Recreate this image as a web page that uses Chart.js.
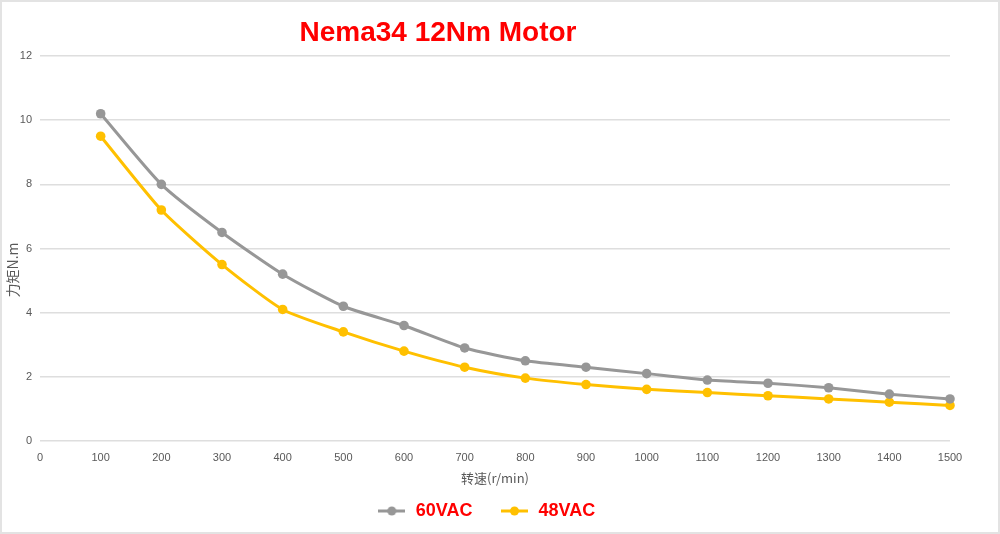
<!DOCTYPE html>
<html>
<head>
<meta charset="utf-8">
<script src="https://cdn.jsdelivr.net/npm/chart.js@4"></script>
<style>
  html, body { margin: 0; padding: 0; background: #fff; }
  #wrap { position: relative; width: 1000px; height: 534px; box-sizing: border-box; border: 2px solid #e3e3e3; }
  #chartTitle {
    position: absolute; left: 236px; width: 400px; top: 14px; text-align: center;
    font: bold 28px "Liberation Sans", Arial, sans-serif; color: #ff0000;
  }
  canvas { position: absolute; left: -2px; top: -2px; }
</style>
</head>
<body>
<div id="wrap">
  <canvas id="torqueChart" width="1000" height="534"></canvas>
  <div id="chartTitle">Nema34 12Nm Motor</div>
</div>
<script>
/* ===== Torque curve data ===== */
const speeds = [100, 200, 300, 400, 500, 600, 700, 800, 900, 1000, 1100, 1200, 1300, 1400, 1500];
const torque60 = [10.2, 8.0, 6.5, 5.2, 4.2, 3.6, 2.9, 2.5, 2.3, 2.1, 1.9, 1.8, 1.66, 1.46, 1.31];
const torque48 = [9.5, 7.2, 5.5, 4.1, 3.4, 2.8, 2.3, 1.96, 1.76, 1.61, 1.51, 1.41, 1.31, 1.21, 1.11];
const seriesNames = ['60VAC', '48VAC'];
const seriesColors = ['#979797', '#ffc000'];
const xTitle = '转速(r/min)';
const yTitle = '力矩N.m';

const cjkFont = '"Noto Sans CJK SC", sans-serif';
const tickFont = { family: '"Liberation Sans", Arial, sans-serif', size: 11 };

// line-with-dot sample used in the legend
function legendIcon(color) {
  const c = document.createElement('canvas');
  c.width = 27; c.height = 10;
  const g = c.getContext('2d');
  g.strokeStyle = color; g.lineWidth = 3;
  g.beginPath(); g.moveTo(0, 5); g.lineTo(27, 5); g.stroke();
  g.fillStyle = color;
  g.beginPath(); g.arc(13.5, 5, 4.5, 0, Math.PI * 2); g.fill();
  return c;
}

function toPoints(vals) {
  return speeds.map((s, i) => ({ x: s, y: vals[i] }));
}

const datasets = [torque60, torque48].map((vals, i) => ({
  label: seriesNames[i],
  data: toPoints(vals),
  borderColor: seriesColors[i],
  backgroundColor: seriesColors[i],
  borderWidth: 3,
  pointRadius: 4.8,
  pointBorderWidth: 0,
  pointStyle: 'circle',
  tension: 0.2,
  clip: false
}));

// y axis title drawn by hand so it can sit a bit below the middle like the original,
// and the legend nudged left a little
const tweaksPlugin = {
  id: 'tweaks',
  afterLayout(chart) {
    chart.legend.left -= 9;
    chart.legend.right -= 9;
  },
  afterDraw(chart) {
    const ctx = chart.ctx;
    ctx.save();
    ctx.translate(13, 270);
    ctx.rotate(-Math.PI / 2);
    ctx.font = '14px ' + cjkFont;
    ctx.fillStyle = '#595959';
    ctx.textAlign = 'center';
    ctx.textBaseline = 'middle';
    ctx.fillText(yTitle, 0, 0);
    ctx.restore();
  }
};

new Chart(document.getElementById('torqueChart'), {
  type: 'line',
  data: { datasets },
  plugins: [tweaksPlugin],
  options: {
    responsive: false,
    animation: false,
    layout: { padding: { top: 56, right: 50, left: 0, bottom: 4 } },
    scales: {
      x: {
        type: 'linear',
        min: 0, max: 1500,
        ticks: { stepSize: 100, color: '#595959', font: tickFont, padding: 10, format: { useGrouping: false } },
        grid: { display: false, drawTicks: false },
        border: { display: false },
        title: { display: true, text: xTitle, color: '#595959', font: { family: cjkFont, size: 13 }, padding: { top: 0, bottom: -11 } },
        afterFit: s => { s.height = 34; }
      },
      y: {
        min: 0, max: 12,
        ticks: { stepSize: 2, color: '#595959', font: tickFont, padding: 8 },
        grid: { color: '#dedede', lineWidth: 1.5, drawTicks: false },
        border: { display: false },
        afterFit: s => { s.width = 40; }
      }
    },
    plugins: {
      legend: {
        position: 'bottom',
        fullSize: false,
        labels: {
          usePointStyle: true,
          pointStyleWidth: 30,
          color: '#ff0000',
          font: { family: '"Liberation Sans", Arial, sans-serif', size: 18, weight: 'bold' },
          padding: 27,
          generateLabels: chart => chart.data.datasets.map((d, i) => ({
            text: d.label,
            fontColor: '#ff0000',
            pointStyle: legendIcon(seriesColors[i]),
            datasetIndex: i,
            hidden: false,
            lineWidth: 0
          }))
        }
      },
      tooltip: { enabled: false }
    }
  }
});
</script>
</body>
</html>
